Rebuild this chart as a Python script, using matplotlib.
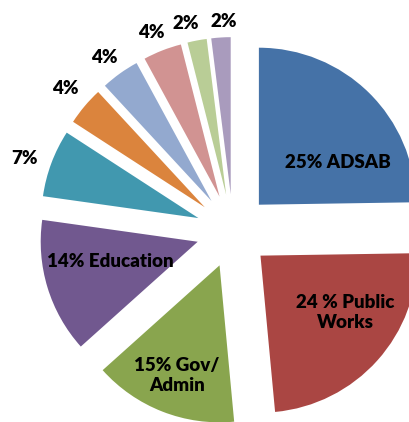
import matplotlib
matplotlib.use("Agg")
import matplotlib.pyplot as plt
import numpy as np

labels = ["25% ADSAB", "24 % Public\nWorks", "15% Gov/\nAdmin", "14% Education",
          "7%", "4%", "4%", "4%", "2%", "2%"]
values = [25, 24, 15, 14, 7, 4, 4, 4, 2, 2]
colors = ["#4572A7", "#AA4643", "#89A54E", "#71588F", "#4198AF",
          "#DB843D", "#93A9CF", "#D19392", "#B9CD96", "#A99BBD"]

# label placement relative to each exploded wedge (fraction of radius, angle offset deg)
label_dist = [0.57, 0.65, 0.75, 0.574, 1.17, 1.165, 1.14, 1.135, 1.12, 1.10]
label_shift = [-17.6, 8.2, 0.2, -4.0, 1.7, -0.2, 1.3, 1.2, 2.7, -1.2]

W, H = 409, 422
R = 157.0
cx, cy = 233.0, 231.0

fig = plt.figure(figsize=(W / 100, H / 100), dpi=100)
ax = fig.add_axes([0, 0, 1, 1])
explode = [0.235] * len(values)
wedges, _ = ax.pie(values, colors=colors, startangle=90, counterclock=False,
                   explode=explode, radius=1.0,
                   wedgeprops=dict(linewidth=0))

for w, lab, d, s in zip(wedges, labels, label_dist, label_shift):
    mid = np.deg2rad((w.theta1 + w.theta2) / 2)
    ox, oy = w.center
    a = mid + np.deg2rad(s)
    ax.text(ox + d * np.cos(a), oy + d * np.sin(a), lab, ha="center", va="center",
            fontsize=13.5, fontweight="heavy", family=["Lato", "DejaVu Sans"],
            color="black", linespacing=1.2)

ax.set_xlim(-cx / R, (W - cx) / R)
ax.set_ylim(-(H - cy) / R, cy / R)
ax.set_aspect("auto")
ax.axis("off")
fig.savefig("out.png", dpi=100)
